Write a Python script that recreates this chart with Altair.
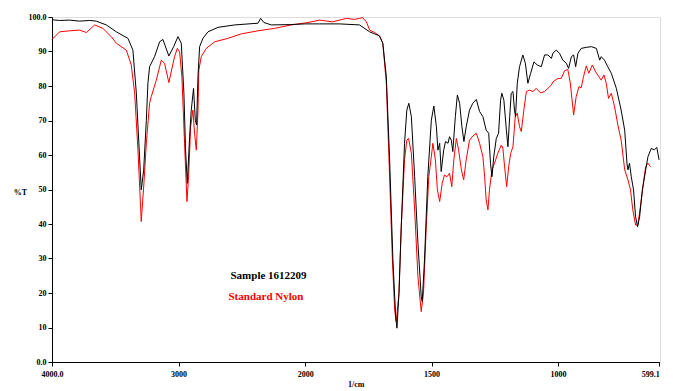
import altair as alt
import pandas as pd

# Sample 1612209 (black)
black_wn = [4000, 3940, 3861, 3782, 3703, 3650, 3571, 3492, 3400, 3361,
            3334, 3314, 3295, 3276, 3255, 3242, 3229, 3190, 3150, 3124,
            3077, 3039, 3005, 2979, 2958, 2945, 2931, 2913, 2900, 2882,
            2868, 2858, 2847, 2834, 2808, 2768, 2689, 2557, 2373, 2352,
            2326, 2267, 2123, 2000, 1943, 1864, 1785, 1745, 1725, 1706,
            1693, 1679, 1666, 1653, 1642, 1637, 1629, 1620, 1607, 1598,
            1590, 1580, 1567, 1554, 1541, 1537, 1528, 1515, 1501, 1491,
            1481, 1475, 1468, 1462, 1452, 1445, 1435, 1429, 1422, 1416,
            1406, 1398, 1389, 1380, 1372, 1363, 1350, 1337, 1323, 1310,
            1297, 1284, 1274, 1267, 1261, 1254, 1244, 1235, 1227, 1222,
            1214, 1204, 1198, 1191, 1185, 1178, 1172, 1168, 1161, 1152,
            1139, 1129, 1119, 1108, 1095, 1082, 1066, 1053, 1040, 1026,
            1020, 1007, 994, 981, 967, 958, 947, 938, 930, 921,
            908, 888, 868, 848, 835, 829, 816, 803, 789, 769,
            750, 736, 727, 723, 717, 710, 701, 693, 685, 677,
            666, 653, 644, 631, 619, 609, 600]
black_t = [99.2, 99.0, 99.1, 98.8, 99.0, 98.8, 97.7, 95.7, 93.8, 90.4,
           78.0, 63.5, 49.9, 55.6, 70.0, 81.0, 85.6, 88.5, 92.8, 93.5,
           88.7, 91.4, 94.3, 92.4, 77.9, 61.4, 51.8, 65.3, 73.0, 79.3,
           70.1, 68.7, 82.7, 91.4, 93.8, 95.7, 97.0, 97.7, 98.2, 99.6,
           98.4, 97.7, 97.8, 98.0, 98.0, 98.0, 97.7, 95.7, 95.1, 94.5,
           92.4, 82.7, 58.6, 29.6, 13.1, 9.8, 19.9, 39.2, 63.4, 73.0,
           75.0, 71.1, 53.7, 34.4, 18.9, 17.5, 29.6, 53.7, 70.1, 74.2,
           68.2, 61.4, 63.4, 55.2, 61.4, 63.9, 63.4, 65.3, 64.3, 61.0,
           71.1, 77.4, 75.0, 68.2, 63.9, 68.2, 73.0, 75.0, 76.1, 72.6,
           71.1, 67.2, 66.3, 57.6, 53.7, 59.5, 64.8, 66.3, 75.9, 77.9,
           75.9, 67.2, 62.4, 71.1, 77.9, 78.4, 73.0, 71.1, 80.8, 85.6,
           89.0, 86.6, 80.8, 83.7, 87.0, 86.1, 85.6, 89.0, 89.0, 88.0,
           89.5, 90.4, 89.5, 87.5, 86.6, 85.1, 88.5, 89.0, 85.6, 89.5,
           90.9, 91.2, 91.4, 90.9, 87.5, 88.5, 87.5, 85.6, 83.7, 79.3,
           73.0, 67.2, 57.6, 55.7, 57.6, 53.7, 49.9, 42.1, 39.2, 42.1,
           49.9, 55.7, 59.5, 61.9, 61.5, 62.2, 58.6]

# Standard Nylon (red)
red_wn = [4000, 3940, 3861, 3782, 3727, 3663, 3598, 3532, 3492, 3413,
          3374, 3347, 3321, 3295, 3274, 3255, 3229, 3216, 3176, 3137,
          3111, 3077, 3032, 3010, 2992, 2974, 2953, 2934, 2921, 2905,
          2887, 2874, 2860, 2847, 2840, 2821, 2781, 2716, 2611, 2505,
          2373, 2242, 2110, 1989, 1943, 1892, 1837, 1805, 1785, 1773,
          1758, 1745, 1725, 1706, 1693, 1679, 1666, 1655, 1646, 1640,
          1629, 1620, 1607, 1598, 1591, 1580, 1567, 1554, 1541, 1532,
          1521, 1511, 1501, 1495, 1485, 1477, 1468, 1458, 1449, 1439,
          1429, 1420, 1412, 1402, 1393, 1382, 1373, 1363, 1350, 1337,
          1323, 1310, 1297, 1290, 1284, 1277, 1271, 1261, 1251, 1238,
          1224, 1218, 1211, 1203, 1195, 1187, 1178, 1169, 1161, 1152,
          1145, 1135, 1125, 1112, 1099, 1086, 1069, 1053, 1040, 1026,
          1020, 1000, 987, 974, 961, 951, 938, 928, 917, 908,
          899, 888, 878, 864, 851, 838, 829, 818, 809, 800,
          789, 776, 763, 750, 736, 723, 713, 704, 693, 684,
          674, 664, 653, 644, 634]
red_t = [93.5, 95.7, 96.0, 96.2, 95.5, 97.7, 96.7, 94.3, 92.4, 90.4,
         86.1, 77.9, 61.4, 40.7, 51.8, 63.4, 75.0, 76.9, 81.7, 87.5,
         86.6, 81.0, 88.5, 90.9, 89.9, 82.7, 63.4, 46.5, 53.7, 68.2,
         73.0, 66.3, 61.4, 73.0, 84.6, 88.5, 90.9, 92.8, 93.8, 95.1,
         96.0, 96.7, 97.7, 98.4, 99.1, 98.6, 99.6, 99.3, 99.6, 99.8,
         98.6, 96.2, 95.5, 94.5, 92.4, 80.8, 53.7, 29.6, 15.1, 11.7,
         19.9, 39.2, 58.6, 64.3, 64.8, 60.5, 44.1, 24.7, 14.6, 19.9,
         39.2, 53.7, 59.5, 63.4, 58.6, 49.9, 46.5, 51.8, 54.2, 53.7,
         54.7, 50.8, 58.6, 64.8, 61.4, 55.7, 52.8, 58.6, 64.3, 65.5,
         66.3, 63.4, 59.5, 53.7, 47.0, 44.1, 49.9, 55.7, 57.6, 60.5,
         62.9, 62.0, 56.6, 50.8, 56.6, 60.5, 62.4, 71.1, 72.1, 68.2,
         66.8, 73.0, 78.4, 78.8, 78.4, 79.3, 78.0, 78.4, 79.3, 80.3,
         81.2, 82.2, 82.2, 84.4, 84.8, 80.8, 71.6, 76.9, 79.8, 79.5,
         82.7, 85.8, 83.7, 86.1, 84.1, 82.7, 81.7, 83.2, 80.8, 76.4,
         77.9, 74.0, 68.7, 64.3, 55.7, 52.8, 49.9, 44.1, 39.7, 39.7,
         45.0, 50.8, 56.6, 57.6, 56.6]

x_ticks = [4000, 3000, 2000, 1500, 1000, 599.1]
y_ticks = [0, 10, 20, 30, 40, 50, 60, 70, 80, 90, 100]

labels = ["Sample 1612209", "Standard Nylon"]
label_wn = [2590, 2606]
label_t = [25.0, 18.8]
label_color = ["#000000", "#ff0000"]

black_df = pd.DataFrame({"wn": black_wn, "t": black_t})
red_df = pd.DataFrame({"wn": red_wn, "t": red_t})
lab_df = pd.DataFrame({"wn": label_wn, "t": label_t, "text": labels, "color": label_color})

W, H = 608, 345
FONT = "Liberation Serif"

xscale = alt.Scale(domain=[4000, 2000, 599.1], range=[0, 253.2, 607.3], nice=False, zero=False)
yscale = alt.Scale(domain=[0, 100], nice=False, zero=True)

xaxis = alt.Axis(values=x_ticks, grid=False, title="1/cm",
                 labelExpr="datum.value == 4000 ? '4000.0' : (datum.value < 600 ? '599.1' : format(datum.value, 'd'))",
                 labelAlign={"condition": {"test": "datum.value < 600", "value": "right"}, "value": "center"},
                 labelFont=FONT, labelFontSize=8, labelFontWeight="bold", labelColor="#000",
                 labelPadding=4, tickSize=4, tickColor="#000", domainColor="#000",
                 titleFont=FONT, titleFontSize=8, titleFontWeight="bold", titleColor="#000",
                 titlePadding=2, labelFlush=False, labelOverlap=False)
yaxis = alt.Axis(values=y_ticks, grid=False, title="%T",
                 labelExpr="datum.value == 0 ? '0.0' : (datum.value == 100 ? '100.0' : format(datum.value, 'd'))",
                 labelFont=FONT, labelFontSize=8, labelFontWeight="bold", labelColor="#000",
                 labelPadding=2, tickSize=4, tickColor="#000", domainColor="#000",
                 titleFont=FONT, titleFontSize=8, titleFontWeight="bold", titleColor="#000",
                 titleAngle=0, titleX=-32, titleY=175, titleAlign="center", titleBaseline="middle",
                 labelFlush=False, labelOverlap=False)

X = alt.X("wn:Q", scale=xscale, axis=xaxis)
Y = alt.Y("t:Q", scale=yscale, axis=yaxis)

red_line = alt.Chart(red_df).mark_line(color="#ff0000", strokeWidth=1).encode(
    x=X, y=Y, order=alt.Order("wn:Q", sort="descending"),
)
black_line = alt.Chart(black_df).mark_line(color="#000000", strokeWidth=1).encode(
    x=X, y=Y, order=alt.Order("wn:Q", sort="descending"),
)
texts = alt.Chart(lab_df).mark_text(font=FONT, fontSize=11, fontWeight="bold", align="left", baseline="middle").encode(
    x=X, y=Y,
    text="text:N",
    color=alt.Color("color:N", scale=None),
)

chart = alt.layer(red_line, black_line, texts).properties(
    width=W, height=H,
    autosize=alt.AutoSizeParams(type="none"),
    padding={"left": 44, "top": 9, "right": 5, "bottom": 28},
).configure_view(stroke=None).configure(background="white")

chart.save("out.html", embed_options={"renderer": "svg", "actions": False})
